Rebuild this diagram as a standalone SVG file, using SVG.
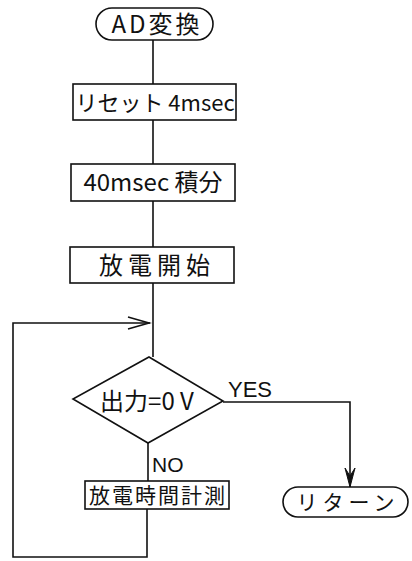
<svg xmlns="http://www.w3.org/2000/svg" width="412" height="561" viewBox="0 0 412 561">
<style>
.s{fill:none;stroke:#111;stroke-width:1.6}
.t{font-family:"Noto Sans CJK JP","Liberation Sans",sans-serif;fill:#111;text-anchor:middle}
.l{font-family:"Liberation Sans","Noto Sans CJK JP",sans-serif;fill:#111}
</style>
<rect width="412" height="561" fill="#fff"/>
<g id="connectors">
<path class="s" d="M153 40V84M153 120V164M153 201V247M153 283V357"/>
<path class="s" d="M148 443V481M147 509V557H13V323H150"/>
<path class="s" d="M128 317L149 323L128 329"/>
<path class="s" d="M223 402H350V487"/>
<path d="M345 468L350 487L355 468L350 476Z" fill="#111" stroke="#111" stroke-width="1"/>
<text class="l" x="228" y="397" font-size="22">YES</text>
<text class="l" x="152" y="472" font-size="21">NO</text>
</g>
<g id="start">
<rect class="s" x="96" y="8" width="117" height="32" rx="16"/>
<text class="t" x="157" y="33" font-size="24" letter-spacing="3">AD変換</text>
</g>
<g id="reset">
<rect class="s" x="73" y="84" width="163" height="36"/>
<text class="t" x="155" y="111" font-size="22">リセット 4msec</text>
</g>
<g id="integrate">
<rect class="s" x="71" y="164" width="164" height="37"/>
<text class="t" x="153" y="191" font-size="24">40msec 積分</text>
</g>
<g id="discharge">
<rect class="s" x="70" y="247" width="164" height="36"/>
<text class="t" x="157" y="274" font-size="24" letter-spacing="5">放電開始</text>
</g>
<g id="decision">
<polygon class="s" points="149,357 223,401 148,443 73,399"/>
<text class="t" x="147" y="410" font-size="24">出力=0 V</text>
</g>
<g id="measure">
<rect class="s" x="85" y="481" width="144" height="28"/>
<text class="t" x="158" y="503" font-size="21" letter-spacing="2">放電時間計測</text>
</g>
<g id="return">
<rect class="s" x="283" y="487" width="125" height="30" rx="15"/>
<text class="t" x="348" y="510" font-size="21" letter-spacing="5">リターン</text>
</g>
</svg>
